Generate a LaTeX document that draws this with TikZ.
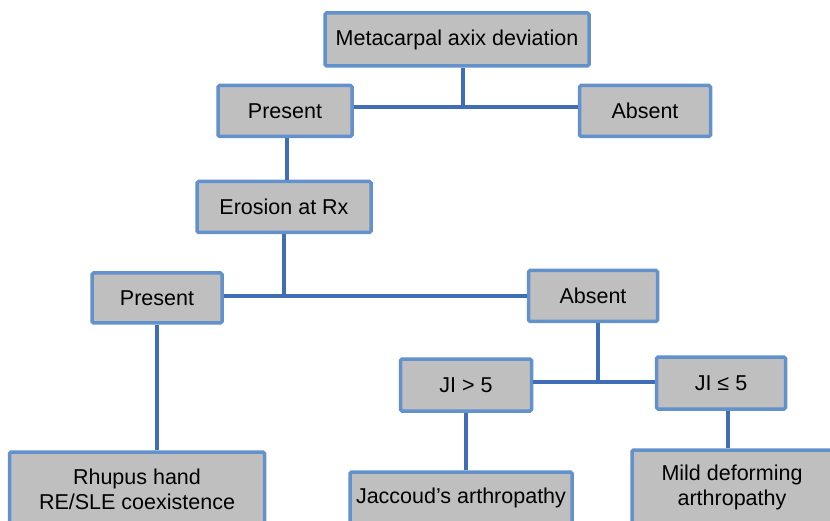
\documentclass[tikz,border=0pt]{standalone}
\usepackage{fontspec}
\setmainfont{Liberation Sans}
\usepackage{tikz}
\usetikzlibrary{positioning}
\definecolor{boxfill}{HTML}{BFBFBF}
\definecolor{boxline}{HTML}{6391CC}
\definecolor{linkline}{HTML}{3F6EB6}

\begin{document}
\begin{tikzpicture}[x=1pt,y=-1pt,
    box/.style={draw=boxline,fill=boxfill,line width=3.5pt,rounded corners=1.5pt,
      align=center,inner sep=0pt,font=\fontsize{21.5}{25}\selectfont},
    link/.style={draw=linkline,line width=3.2pt}]
  \useasboundingbox (0,0) rectangle (830,521);
  \clip (0,0) rectangle (830,521);

  \node[box,minimum width=264pt,minimum height=53pt] (meta)  at (457,39.5) {Metacarpal axix deviation};
  \node[box,minimum width=134pt,minimum height=51pt] (pres1) at (285,111)  {Present};
  \node[box,minimum width=131pt,minimum height=51pt] (abs1)  at (645,111)  {Absent};
  \node[box,minimum width=174pt,minimum height=51pt] (eros)  at (284,207)  {Erosion at Rx};
  \node[box,minimum width=130pt,minimum height=50pt] (pres2) at (157,298)  {Present};
  \node[box,minimum width=129pt,minimum height=51pt] (abs2)  at (593,296)  {Absent};
  \node[box,minimum width=131pt,minimum height=52pt] (jigt)  at (466,385)  {JI > 5};
  \node[box,minimum width=129pt,minimum height=52pt] (jile)  at (721,383)  {JI ≤ 5};
  \node[box,minimum width=255pt,minimum height=74pt] (rhup)  at (137,489)  {Rhupus hand\\RE/SLE coexistence};
  \node[box,minimum width=222pt,minimum height=52pt] (jacc)  at (461,498)  {Jaccoud’s arthropathy};
  \node[box,minimum width=200pt,minimum height=74pt] (mild)  at (732,487)  {Mild deforming\\arthropathy};

  % joints of the branches
  \coordinate (j1) at (463,107);
  \coordinate (j2) at (284,296);
  \coordinate (j3) at (598,382);

  \draw[link] (meta.south -| j1) -- (j1);
  \draw[link] (pres1.east |- j1) -- (abs1.west |- j1);
  \draw[link] (pres1.south -| 287,0) -- (eros.north -| 287,0);
  \draw[link] (eros.south) -- (j2);
  \draw[link] (pres2.east |- j2) -- (abs2.west |- j2);
  \draw[link] (abs2.south -| j3) -- (j3);
  \draw[link] (jigt.east |- j3) -- (jile.west |- j3);
  \draw[link] (pres2.south) -- (rhup.north -| pres2.south);
  \draw[link] (jigt.south) -- (jacc.north -| jigt.south);
  \draw[link] (jile.south -| 728,0) -- (mild.north -| 728,0);
\end{tikzpicture}
\end{document}
